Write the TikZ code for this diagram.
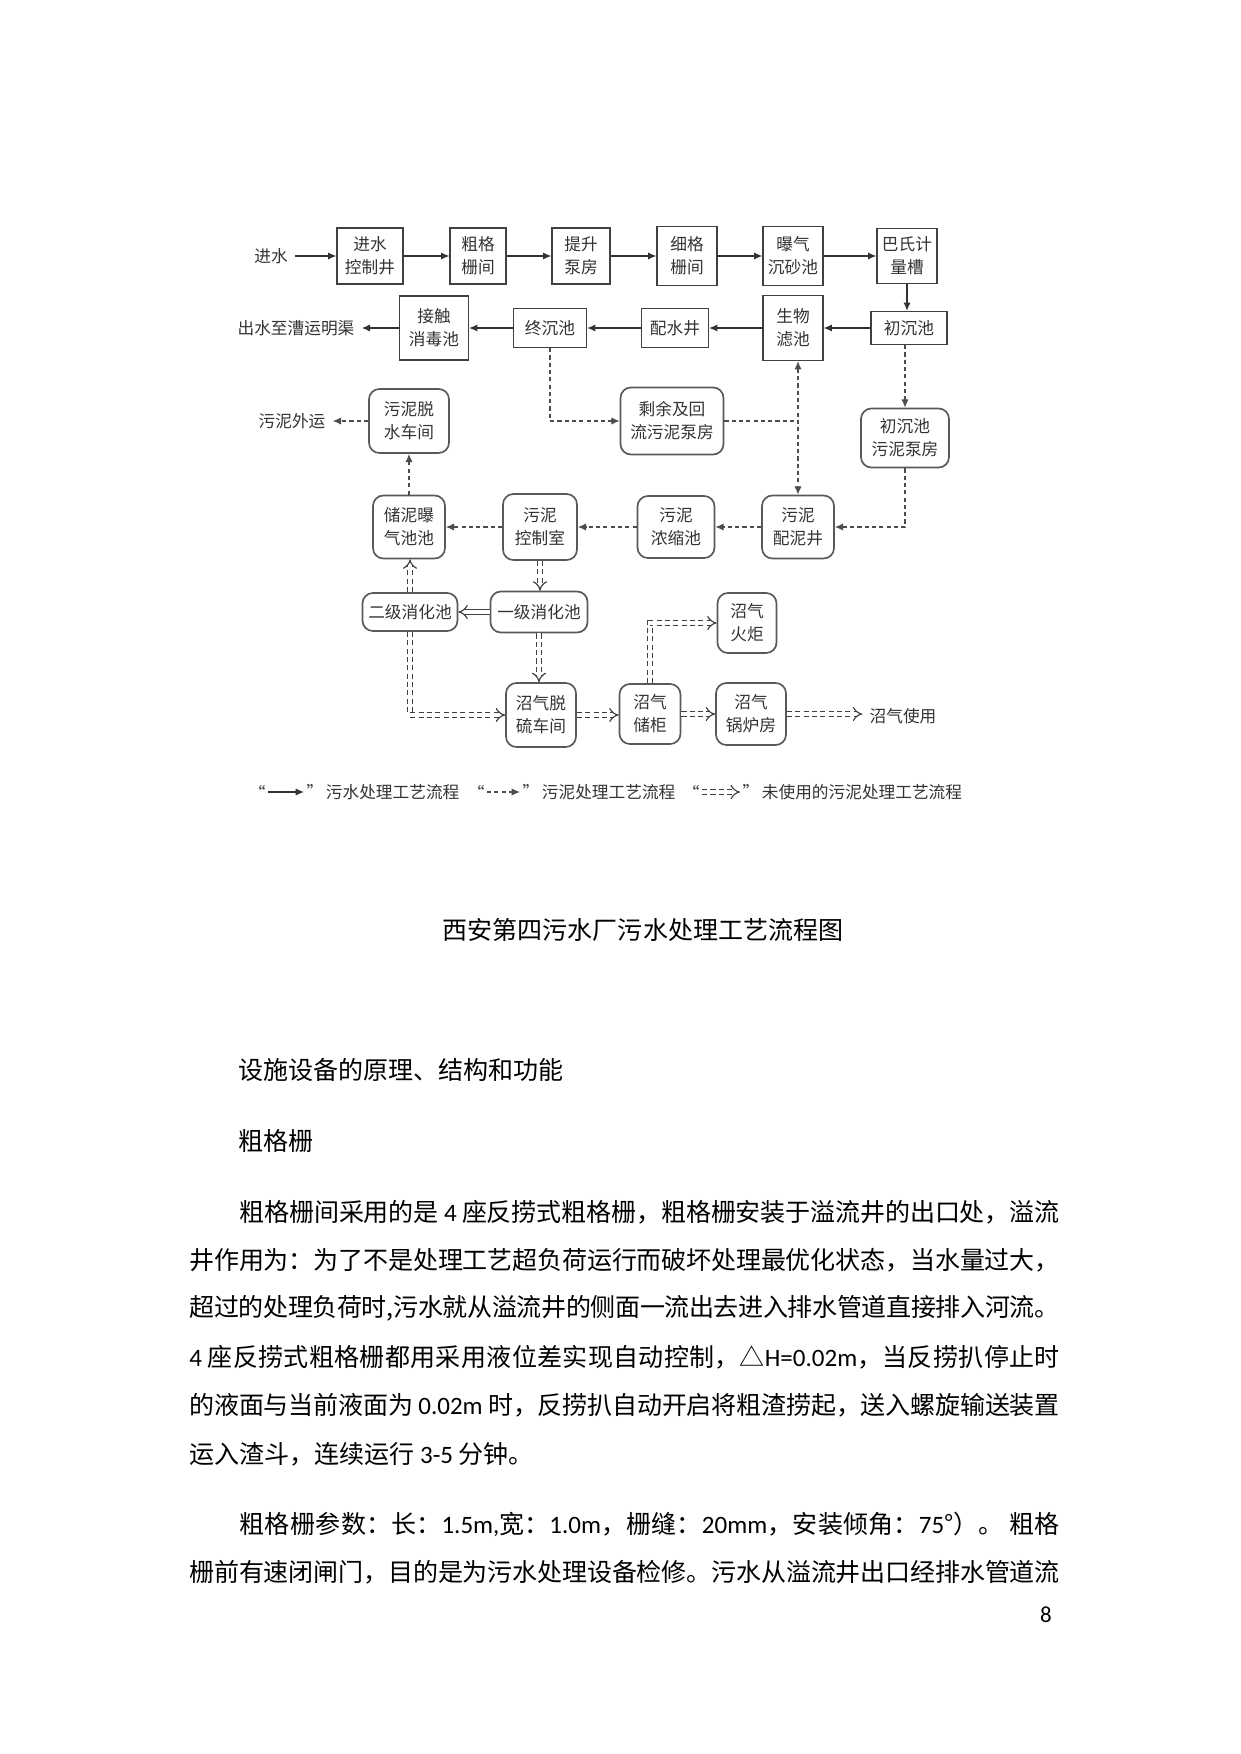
\documentclass[tikz,border=0pt]{standalone}
\usepackage{fontspec}
\setmainfont{Noto Sans CJK SC}
\newfontfamily\lat{Carlito}
\usetikzlibrary{arrows.meta}

% one body line, spread to the full text width
\newcommand\jline[1]{\parbox{417.5pt}{\XeTeXlinebreaklocale "zh"\XeTeXlinebreakskip=0pt plus 3pt minus 0.5pt\parfillskip=0pt\tolerance=10000\relax #1}}

\begin{document}
\begin{tikzpicture}[x=0.4797pt, y=-0.4797pt,
	font=\fontsize{8}{11}\selectfont, text=black!80,
	>={Latex[length=4pt,width=3.5pt]},
	boxsize/.style 2 args={minimum width=#1*0.4797pt, minimum height=#2*0.4797pt},
	wbox/.style={draw=black!75, line width=0.6pt, align=center, inner sep=0pt},
	sbox/.style={draw=black!65, line width=0.8pt, rounded corners=5pt, align=center, inner sep=0pt},
	water/.style={draw=black!80, line width=0.6pt, ->},
	sludge/.style={draw=black!70, line width=0.6pt, dash pattern=on 2pt off 1.5pt, ->},
	unused/.style={draw=black!75, line width=0.55pt, double, double distance=1.8pt, dash pattern=on 2.5pt off 1.5pt, -{Implies}},
	hollow/.style={draw=black!75, line width=0.55pt, double, double distance=1.8pt, -{Implies}},
	body/.style={anchor=west, inner sep=0pt, text=black, font=\fontsize{12}{14}\selectfont}]
	\fill [white] (0,0) rectangle (1241,1754);
	\useasboundingbox (0,0) rectangle (1241,1754);

	% sewage line
	\node (in) at (271,256) {进水};
	\node [wbox, boxsize={66}{56}] (n1) at (370,256) {进水\\控制井};
	\node [wbox, boxsize={56}{56}] (n2) at (478,256) {粗格\\栅间};
	\node [wbox, boxsize={58}{56}] (n3) at (581,256) {提升\\泵房};
	\node [wbox, boxsize={60}{59}] (n4) at (687,256) {细格\\栅间};
	\node [wbox, boxsize={60}{59}] (n5) at (793,256) {曝气\\沉砂池};
	\node [wbox, boxsize={60}{55}] (n6) at (907,256) {巴氏计\\量槽};
	\node [wbox, boxsize={76}{33}] (n7) at (909,328) {初沉池};
	\node [wbox, boxsize={60}{65}] (n8) at (793,328) {生物\\滤池};
	\node [wbox, boxsize={67}{39}] (n9) at (675,328) {配水井};
	\node [wbox, boxsize={73}{39}] (n10) at (550,328) {终沉池};
	\node [wbox, boxsize={69}{64}] (n11) at (434,328) {接触\\消毒池};
	\node (out) at (296,328) {出水至漕运明渠};

	% sludge line
	\node [sbox, boxsize={80}{64}] (s1) at (409,421) {污泥脱\\水车间};
	\node (sout) at (292,421) {污泥外运};
	\node [sbox, boxsize={103}{67}] (s2) at (672,421) {剩余及回\\流污泥泵房};
	\node [sbox, boxsize={88}{59}] (s3) at (905,438) {初沉池\\污泥泵房};
	\node [sbox, boxsize={72}{63}] (s4) at (409,527) {储泥曝\\气池池};
	\node [sbox, boxsize={74}{66}] (s5) at (540,527) {污泥\\控制室};
	\node [sbox, boxsize={77}{62}] (s6) at (676,527) {污泥\\浓缩池};
	\node [sbox, boxsize={72}{63}] (s7) at (798,527) {污泥\\配泥井};

	% digestion and gas
	\node [sbox, boxsize={95}{38}] (d2) at (410,612) {二级消化池};
	\node [sbox, boxsize={97}{41}] (d1) at (539,612) {一级消化池};
	\node [sbox, boxsize={59}{60}] (g1) at (747,623) {沼气\\火炬};
	\node [sbox, boxsize={70}{64}] (g2) at (541,715) {沼气脱\\硫车间};
	\node [sbox, boxsize={61}{60}] (g3) at (650,714) {沼气\\储柜};
	\node [sbox, boxsize={70}{62}] (g4) at (751,714) {沼气\\锅炉房};
	\node (gout) at (903,716) {沼气使用};

	\foreach \a/\b in {in/n1,n1/n2,n2/n3,n3/n4,n4/n5,n5/n6,n7/n8,n8/n9,n9/n10,n10/n11,n11/out}
		\draw [water] (\a) -- (\b);
	\draw [water] (n6.south) -- (n6.south |- n7.north);

	\draw [sludge] (n10.south) |- (s2.west);
	\draw [sludge, -] (s2.east) -- (s2.east -| s7.north);
	\draw [sludge, <->] (n8.south -| s7.north) -- (s7.north);
	\draw [sludge] (s3.north |- n7.south) -- (s3.north);
	\draw [sludge] (s3.south) |- (s7.east);
	\foreach \a/\b in {s7/s6,s6/s5,s5/s4,s4/s1,s1/sout}
		\draw [sludge] (\a) -- (\b);

	\draw [unused] (s5.south) -- (s5.south |- d1.north);
	\draw [unused] (d2.north) -- (d2.north |- s4.south);
	\draw [hollow] (d1) -- (d2);
	\draw [unused] (d1.south) -- (d1.south |- g2.north);
	\draw [unused] (d2.south) |- (g2.west);
	\draw [unused] (g2.east) -- (g2.east -| g3.west);
	\draw [unused] (g3.north) |- (g1.west);
	\draw [unused] (g3.east) -- (g3.east -| g4.west);
	\draw [unused] (g4.east) -- (g4.east -| gout.west);

	% legend
	\coordinate (la1) at (268,792); \coordinate (lb1) at (304,792);
	\coordinate (la2) at (487,792); \coordinate (lb2) at (520,792);
	\coordinate (la3) at (702,792); \coordinate (lb3) at (740,792);
	\draw [water] (la1) -- (lb1);
	\draw [sludge] (la2) -- (lb2);
	\draw [unused] (la3) -- (lb3);
	\node [left, inner sep=1pt] (q1) at (la1) {“};
	\node [right, inner sep=1pt] (t1) at (lb1) {”\,污水处理工艺流程};
	\node [left, inner sep=1pt] (q2) at (la2) {“};
	\node [right, inner sep=1pt] (t2) at (lb2) {”\,污泥处理工艺流程};
	\node [left, inner sep=1pt] (q3) at (la3) {“};
	\node [right, inner sep=1pt] (t3) at (lb3) {”\,未使用的污泥处理工艺流程};

	% caption and text
	\node [text=black, font=\fontsize{12}{14}\selectfont] (cap) at (643,930) {西安第四污水厂污水处理工艺流程图};
	\node [body] (h1) at (238,1070) {设施设备的原理、结构和功能};
	\node [body] (h2) at (238,1141) {粗格栅};
	\node [body] (p1) at (189,1212) {\jline{\hspace*{24pt}粗格栅间采用的是 {\lat 4} 座反捞式粗格栅，粗格栅安装于溢流井的出口处，溢流}};
	\node [body] (p2) at (189,1260) {\jline{井作用为：为了不是处理工艺超负荷运行而破坏处理最优化状态，当水量过大，}};
	\node [body] (p3) at (189,1308) {\jline{超过的处理负荷时,污水就从溢流井的侧面一流出去进入排水管道直接排入河流。}};
	\node [body] (p4) at (189,1357) {\jline{{\lat 4} 座反捞式粗格栅都用采用液位差实现自动控制，△{\lat H=0.02m}，当反捞扒停止时}};
	\node [body] (p5) at (189,1405) {\jline{的液面与当前液面为 {\lat 0.02m} 时，反捞扒自动开启将粗渣捞起，送入螺旋输送装置}};
	\node [body] (p6) at (189,1454) {运入渣斗，连续运行 {\lat 3-5} 分钟。};
	\node [body] (p7) at (189,1524) {\jline{\hspace*{24pt}粗格栅参数：长：{\lat 1.5m,}宽：{\lat 1.0m}，栅缝：{\lat 20mm}，安装倾角：{\lat 75}°）。 粗格}};
	\node [body] (p8) at (189,1572) {\jline{栅前有速闭闸门，目的是为污水处理设备检修。污水从溢流井出口经排水管道流}};
	\node [text=black, font=\lat\fontsize{11}{13}\selectfont] (pg) at (1046,1615) {8};
\end{tikzpicture}
\end{document}
